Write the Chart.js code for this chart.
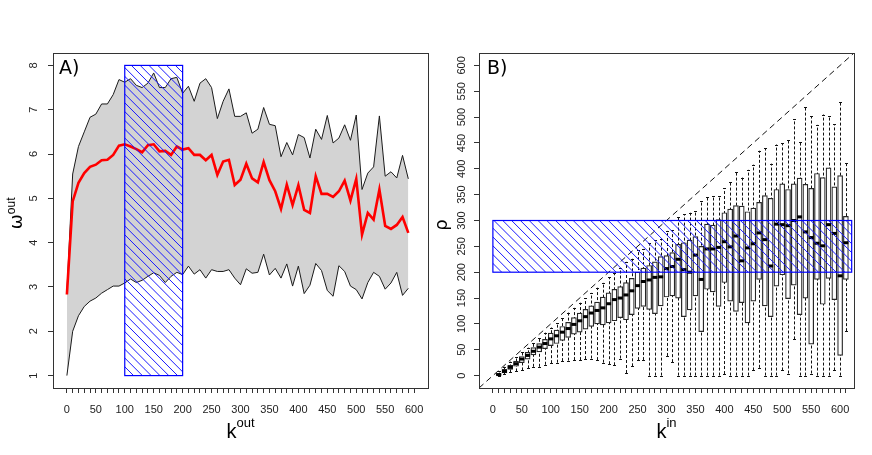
<!DOCTYPE html>
<html>
<head>
<meta charset="utf-8">
<script src="https://cdn.jsdelivr.net/npm/chart.js@4.4.1/dist/chart.umd.min.js"></script>
<style>
  body { margin: 0; background: #fff; }
  #wrap { position: relative; width: 872px; height: 455px; }
  canvas { position: absolute; top: 0; }
</style>
</head>
<body>
<div id="wrap">
  <canvas id="chartA" width="436" height="455" style="left:0px"></canvas>
  <canvas id="chartB" width="446" height="455" style="left:426px"></canvas>
</div>
<script>
Chart.defaults.font.family = "'Liberation Sans', Arial, sans-serif";
Chart.defaults.font.size = 11;
Chart.defaults.color = "#222";

// ---- panel A data ----
const kOut = [0, 10, 20, 30, 40, 50, 60, 70, 80, 90, 100, 110, 120, 130, 140, 150, 160, 170, 180, 190,
  200, 210, 220, 230, 240, 250, 260, 270, 280, 290, 300, 310, 320, 330, 340, 350, 360, 370, 380, 390,
  400, 410, 420, 430, 440, 450, 460, 470, 480, 490, 500, 510, 520, 530, 540, 550, 560, 570, 580, 590];
const omegaUpper = [2.9, 5.55, 6.17, 6.5, 6.83, 6.9, 7.13, 7.13, 7.34, 7.68, 7.62, 7.7, 7.55, 7.5, 7.6, 7.83, 7.5, 7.5, 7.7, 7.73,
  7.37, 7.53, 7.19, 7.6, 7.7, 7.5, 6.8, 7.19, 7.47, 6.85, 6.85, 6.93, 6.47, 6.56, 7.05, 6.67, 6.64, 5.94, 6.26, 5.98,
  6.44, 6.37, 5.91, 6.56, 6.33, 6.87, 6.25, 6.36, 6.66, 6.31, 6.88, 5.2, 5.57, 5.71, 6.86, 5.5, 5.6, 5.46, 5.97, 5.44];
const omegaMean = [2.83, 4.93, 5.35, 5.57, 5.71, 5.76, 5.86, 5.87, 5.98, 6.19, 6.22, 6.17, 6.11, 6.04, 6.2, 6.22, 6.06, 6.07, 5.98, 6.17,
  6.1, 6.13, 5.98, 5.98, 5.86, 5.98, 5.53, 5.83, 5.87, 5.3, 5.42, 5.78, 5.45, 5.36, 5.82, 5.41, 5.16, 4.76, 5.31, 4.85,
  5.3, 4.74, 4.67, 5.5, 5.1, 5.1, 5.03, 5.16, 5.4, 4.95, 5.44, 4.18, 4.67, 4.52, 5.2, 4.38, 4.31, 4.4, 4.58, 4.22];
const omegaLower = [1.0, 2.0, 2.35, 2.56, 2.68, 2.75, 2.86, 2.94, 3.02, 3.02, 3.09, 3.18, 3.1, 3.15, 3.24, 3.32, 3.26, 3.1, 3.24, 3.33,
  3.28, 3.47, 3.29, 3.39, 3.2, 3.39, 3.35, 3.35, 3.39, 3.2, 3.05, 3.41, 3.31, 3.33, 3.74, 3.27, 3.42, 3.2, 3.52, 3.02,
  3.47, 2.85, 3.04, 3.53, 3.37, 2.92, 2.79, 3.48, 3.35, 3.02, 2.94, 2.73, 3.1, 3.33, 3.24, 2.95, 3.09, 3.33, 2.81, 2.97];
const kOutTicks = [0, 10, 20, 30, 40, 50, 60, 70, 80, 90, 100, 110, 120, 130, 140, 150, 160, 170, 180, 190,
  200, 210, 220, 230, 240, 250, 260, 270, 280, 290, 300, 310, 320, 330, 340, 350, 360, 370, 380, 390,
  400, 410, 420, 430, 440, 450, 460, 470, 480, 490, 500, 510, 520, 530, 540, 550, 560, 570, 580, 590, 600];
const omegaTicks = [1, 2, 3, 4, 5, 6, 7, 8];
const highlightA = [100, 200, 1, 8]; // k from, k to, omega from, omega to

// ---- panel B data ----
const kIn = [10, 20, 30, 40, 50, 60, 70, 80, 90, 100, 110, 120, 130, 140, 150, 160, 170, 180, 190, 200,
  210, 220, 230, 240, 250, 260, 270, 280, 290, 300, 310, 320, 330, 340, 350, 360, 370, 380, 390, 400,
  410, 420, 430, 440, 450, 460, 470, 480, 490, 500, 510, 520, 530, 540, 550, 560, 570, 580, 590, 600, 610];
const rhoLow = [0, 3, 6, 8, 10, 14, 17, 17, 21, 24, 25, 28, 29, 30, 30, 32, 33, 30, 25, 22,
  20, 33, 5, 18, 30, 30, 0, 0, 0, 38, 26, 0, 0, 0, 0, 0, 0, 0, 0, 3,
  0, 0, 0, 0, 10, 15, 0, 0, 0, 10, 4, 70, 0, 0, 4, 0, 0, 0, 10, 0, 86];
const rhoQ1 = [0, 5, 12, 18, 25, 32, 40, 46, 52, 58, 62, 68, 74, 80, 84, 90, 95, 100, 98, 102,
  106, 112, 108, 118, 130, 134, 128, 120, 135, 152, 154, 150, 114, 127, 154, 85, 167, 162, 134, 180,
  144, 124, 141, 102, 144, 186, 135, 114, 173, 195, 149, 175, 118, 150, 61, 186, 138, 188, 147, 39, 186];
const rhoMed = [2, 8, 16, 23, 32, 39, 47, 55, 62, 71, 77, 84, 91, 99, 106, 114, 121, 126, 131, 139,
  147, 150, 156, 164, 174, 182, 185, 190, 191, 207, 211, 225, 205, 200, 233, 186, 245, 245, 248, 259,
  249, 270, 222, 247, 255, 276, 263, 212, 293, 292, 290, 300, 307, 278, 267, 256, 251, 292, 275, 193, 257];
const rhoQ3 = [4, 12, 20, 28, 37, 45, 54, 62, 70, 82, 88, 95, 103, 112, 121, 128, 135, 142, 152, 160,
  167, 172, 180, 188, 200, 208, 213, 220, 230, 232, 238, 254, 257, 262, 269, 250, 293, 291, 302, 315,
  322, 329, 328, 317, 324, 335, 348, 343, 360, 371, 360, 371, 382, 370, 362, 391, 383, 402, 365, 387, 308];
const rhoHigh = [8, 17, 27, 36, 45, 54, 64, 73, 83, 93, 102, 112, 122, 131, 141, 150, 160, 170, 180, 190,
  198, 208, 220, 226, 243, 245, 256, 262, 265, 280, 281, 306, 312, 315, 318, 337, 346, 347, 347, 362,
  375, 393, 383, 398, 408, 435, 440, 410, 447, 449, 455, 496, 452, 520, 502, 485, 505, 502, 486, 529, 412];
const kInTicks = [0, 10, 20, 30, 40, 50, 60, 70, 80, 90, 100, 110, 120, 130, 140, 150, 160, 170, 180, 190,
  200, 210, 220, 230, 240, 250, 260, 270, 280, 290, 300, 310, 320, 330, 340, 350, 360, 370, 380, 390,
  400, 410, 420, 430, 440, 450, 460, 470, 480, 490, 500, 510, 520, 530, 540, 550, 560, 570, 580, 590, 600, 610];
const rhoTicks = [0, 50, 100, 150, 200, 250, 300, 350, 400, 450, 500, 550, 600];
const highlightB = [0, 620, 200, 300];

function xy(xs, ys) {
  return xs.map((x, i) => ({ x: x, y: ys[i] }));
}

// text with a superscript, centred on cx
function drawSup(ctx, base, baseFont, sup, supFont, cx, baseY, rise) {
  ctx.font = baseFont;
  const wb = ctx.measureText(base).width;
  ctx.font = supFont;
  const ws = sup ? ctx.measureText(sup).width : 0;
  const x0 = cx - (wb + ws) / 2;
  ctx.textAlign = "left";
  ctx.textBaseline = "alphabetic";
  ctx.font = baseFont;
  ctx.fillText(base, x0, baseY);
  if (sup) {
    ctx.font = supFont;
    ctx.fillText(sup, x0 + wb, baseY - rise);
  }
}

function hatchRect(chart, r) {
  const { x, y } = chart.scales;
  const ctx = chart.ctx;
  const x1 = x.getPixelForValue(r[0]);
  const x2 = x.getPixelForValue(r[1]);
  const y1 = y.getPixelForValue(r[3]);
  const y2 = y.getPixelForValue(r[2]);
  const h = y2 - y1;
  ctx.save();
  ctx.beginPath();
  ctx.rect(x1, y1, x2 - x1, h);
  ctx.clip();
  ctx.strokeStyle = "#1a1aff";
  ctx.lineWidth = 1;
  ctx.beginPath();
  for (let c = x1 - h; c < x2; c += 8.8) {
    ctx.moveTo(c, y1);
    ctx.lineTo(c + h, y2);
  }
  ctx.stroke();
  ctx.restore();
  ctx.save();
  ctx.strokeStyle = "#0000ff";
  ctx.lineWidth = 1.2;
  ctx.strokeRect(x1, y1, x2 - x1, h);
  ctx.restore();
}

function decor(opts) {
  return {
    id: "decor",
    afterDraw(chart) {
      const ctx = chart.ctx;
      const a = chart.chartArea;
      const ys = chart.scales.y;
      ctx.save();
      ctx.strokeStyle = "#333";
      ctx.lineWidth = 1;
      ctx.strokeRect(Math.round(a.left) + 0.5, Math.round(a.top) + 0.5,
        Math.round(a.right - a.left), Math.round(a.bottom - a.top));

      // y tick labels, parallel to the axis
      ctx.fillStyle = "#222";
      ctx.font = "11px 'Liberation Sans'";
      ctx.textAlign = "center";
      ctx.textBaseline = "alphabetic";
      opts.yTicks.forEach((v) => {
        ctx.save();
        ctx.translate(a.left - opts.yLabelGap, ys.getPixelForValue(v));
        ctx.rotate(-Math.PI / 2);
        ctx.fillText(String(v), 0, 0);
        ctx.restore();
      });

      // panel letter
      ctx.fillStyle = "#000";
      ctx.font = "19px 'DejaVu Sans'";
      ctx.textAlign = "left";
      ctx.fillText(opts.letter, a.left + opts.letterDx, 74);

      // x title
      drawSup(ctx, "k", "20px 'Liberation Sans'", opts.xSup, "13px 'Liberation Sans'",
        (a.left + a.right) / 2, 438, 11);

      // y title
      ctx.save();
      ctx.translate(opts.yTitleX, opts.yTitleY);
      ctx.rotate(-Math.PI / 2);
      drawSup(ctx, opts.yBase, "18px 'DejaVu Sans'", opts.ySup, "12px 'Liberation Sans'", 0, 0, 6.4);
      ctx.restore();
      ctx.restore();
    },
  };
}

const axisGrid = { drawOnChartArea: false, drawTicks: true, tickLength: 5, color: "#333", tickColor: "#333" };

// ---- panel A ----
new Chart(document.getElementById("chartA"), {
  type: "line",
  data: {
    datasets: [
      {
        label: "lower",
        data: xy(kOut, omegaLower),
        borderColor: "#1a1a1a",
        borderWidth: 1,
        pointRadius: 0,
        fill: false,
        order: 2,
      },
      {
        label: "upper",
        data: xy(kOut, omegaUpper),
        borderColor: "#1a1a1a",
        borderWidth: 1,
        pointRadius: 0,
        fill: { target: 0 },
        backgroundColor: "#d3d3d3",
        order: 3,
      },
      {
        label: "mean",
        data: xy(kOut, omegaMean),
        borderColor: "#ff0000",
        borderWidth: 2.6,
        pointRadius: 0,
        fill: false,
        order: 1,
      },
    ],
  },
  options: {
    responsive: false,
    animation: false,
    layout: { padding: { top: 53, right: 8, left: 0, bottom: 0 } },
    plugins: { legend: { display: false }, tooltip: { enabled: false } },
    scales: {
      x: {
        type: "linear",
        min: -24,
        max: 624,
        afterBuildTicks: (s) => { s.ticks = kOutTicks.map((v) => ({ value: v })); },
        afterFit: (s) => { s.height = 67; },
        grid: axisGrid,
        border: { display: false },
        ticks: { autoSkip: false, maxRotation: 0, padding: 10, callback: (v) => (v % 50 === 0 ? v : "") },
      },
      y: {
        min: 0.72,
        max: 8.28,
        afterBuildTicks: (s) => { s.ticks = omegaTicks.map((v) => ({ value: v })); },
        afterFit: (s) => { s.width = 53; },
        grid: axisGrid,
        border: { display: false },
        ticks: { display: false },
      },
    },
  },
  plugins: [
    { id: "hatchA", afterDatasetsDraw: (chart) => hatchRect(chart, highlightA) },
    decor({ yTicks: omegaTicks, yLabelGap: 16.5, letter: "A)", letterDx: 6, xSup: "out",
      yBase: "\u03c9", ySup: "out", yTitleX: 21.7, yTitleY: 213.4 }),
  ],
});

// ---- panel B ----
const boxPlugin = {
  id: "boxes",
  beforeDatasetsDraw(chart) {
    const { x, y } = chart.scales;
    const ctx = chart.ctx;
    ctx.save();
    ctx.strokeStyle = "#111";
    ctx.lineWidth = 1;
    kIn.forEach((k, i) => {
      const px = Math.round(x.getPixelForValue(k)) + 0.5;
      ctx.setLineDash([3, 2]);
      ctx.beginPath();
      ctx.moveTo(px, y.getPixelForValue(rhoLow[i]));
      ctx.lineTo(px, y.getPixelForValue(rhoHigh[i]));
      ctx.stroke();
      ctx.setLineDash([]);
      [rhoLow[i], rhoHigh[i]].forEach((v) => {
        const py = Math.round(y.getPixelForValue(v)) + 0.5;
        ctx.beginPath();
        ctx.moveTo(px - 1.5, py);
        ctx.lineTo(px + 1.5, py);
        ctx.stroke();
      });
    });
    ctx.restore();
  },
  afterDatasetsDraw(chart) {
    const { x, y } = chart.scales;
    const ctx = chart.ctx;
    const a = chart.chartArea;
    ctx.save();
    ctx.fillStyle = "#000";
    kIn.forEach((k, i) => {
      const px = x.getPixelForValue(k);
      const py = y.getPixelForValue(rhoMed[i]);
      ctx.fillRect(px - 2.5, py - 1.5, 5, 3);
    });
    // y = x reference line
    ctx.beginPath();
    ctx.rect(a.left, a.top, a.right - a.left, a.bottom - a.top);
    ctx.clip();
    ctx.strokeStyle = "#111";
    ctx.lineWidth = 1;
    ctx.setLineDash([6, 4]);
    ctx.beginPath();
    ctx.moveTo(x.getPixelForValue(x.min), y.getPixelForValue(x.min));
    ctx.lineTo(x.getPixelForValue(x.max), y.getPixelForValue(x.max));
    ctx.stroke();
    ctx.restore();
    hatchRect(chart, highlightB);
  },
};

new Chart(document.getElementById("chartB"), {
  type: "bar",
  data: {
    datasets: [
      {
        label: "box",
        data: kIn.map((k, i) => ({ x: k, y: [rhoQ1[i], rhoQ3[i]] })),
        backgroundColor: "#ffffff",
        borderColor: "#262626",
        borderWidth: 1.2,
        borderSkipped: false,
        barThickness: 5,
      },
    ],
  },
  options: {
    responsive: false,
    animation: false,
    layout: { padding: { top: 53, right: 18, left: 0, bottom: 0 } },
    plugins: { legend: { display: false }, tooltip: { enabled: false } },
    scales: {
      x: {
        type: "linear",
        offset: false,
        min: -24,
        max: 624,
        afterBuildTicks: (s) => { s.ticks = kInTicks.map((v) => ({ value: v })); },
        afterFit: (s) => { s.height = 67; },
        grid: Object.assign({ offset: false }, axisGrid),
        border: { display: false },
        ticks: { autoSkip: false, maxRotation: 0, padding: 10, callback: (v) => (v % 50 === 0 ? v : "") },
      },
      y: {
        min: -24,
        max: 624,
        afterBuildTicks: (s) => { s.ticks = rhoTicks.map((v) => ({ value: v })); },
        afterFit: (s) => { s.width = 53; },
        grid: axisGrid,
        border: { display: false },
        ticks: { display: false },
      },
    },
  },
  plugins: [
    boxPlugin,
    decor({ yTicks: rhoTicks, yLabelGap: 14.5, letter: "B)", letterDx: 8, xSup: "in",
      yBase: "\u03c1", ySup: "", yTitleX: 21, yTitleY: 225 }),
  ],
});
</script>
</body>
</html>
